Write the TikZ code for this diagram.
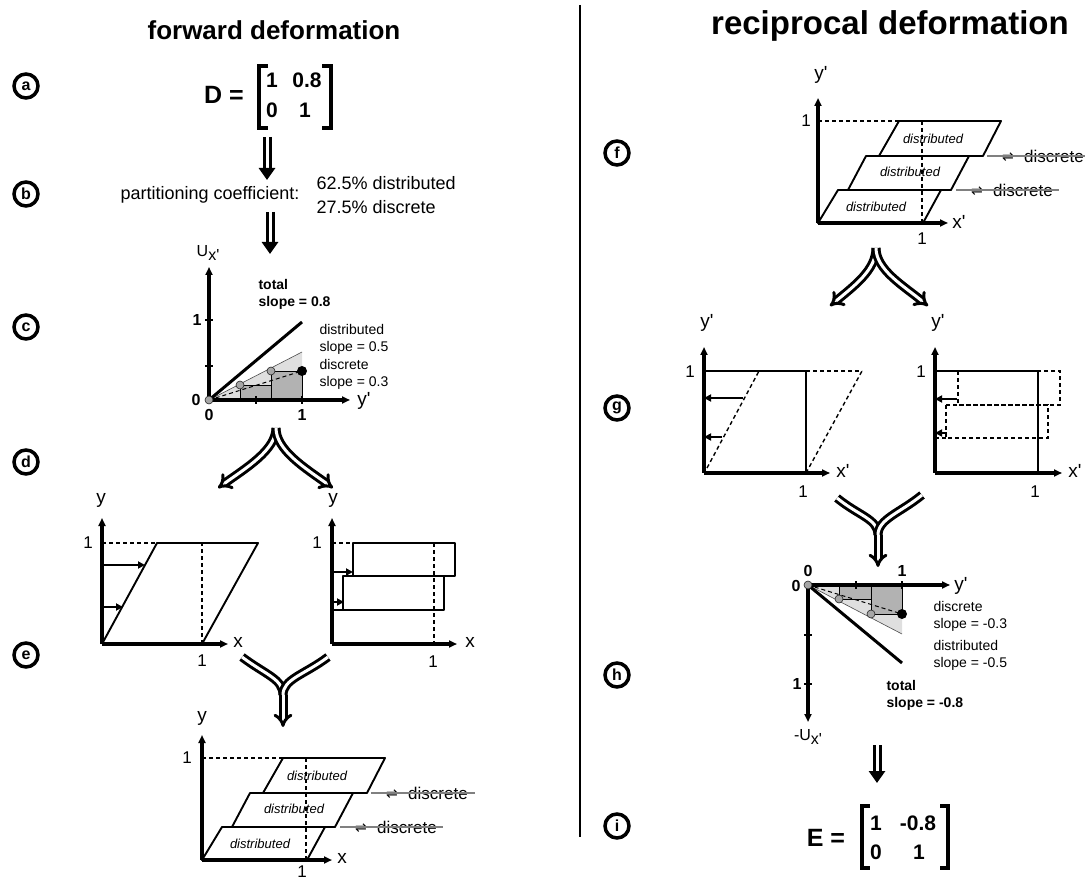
\documentclass[tikz,border=0pt]{standalone}
\usepackage{fontspec}
\setmainfont{Liberation Sans}
\newfontfamily\arrowfont{DejaVu Sans}
\usetikzlibrary{arrows.meta,positioning}

\newcommand{\pr}{\textquotesingle}

\tikzset{
  heading/.style={font=\bfseries\fontsize{26}{26}\selectfont},
  circlab/.style={circle, draw, line width=3.5pt, minimum size=24pt, inner sep=0pt,
    font=\bfseries\fontsize{16}{16}\selectfont},
  plotaxis/.style={line width=3.6pt, -{Triangle[length=8pt,width=7pt]}},
  axlab/.style={font=\fontsize{19}{19}\selectfont},
  unitlab/.style={font=\fontsize{17}{17}\selectfont},
  zerolab/.style={font=\bfseries\fontsize{16}{16}\selectfont},
  tickmark/.style={line width=2.6pt},
  outline/.style={line width=1.9pt, line join=round},
  guide/.style={line width=1.4pt, dash pattern=on 4pt off 3pt},
  push/.style={line width=2.8pt, -{Triangle[length=7pt,width=7pt]}},
  layertext/.style={font=\itshape\fontsize{13}{13}\selectfont},
  sliptext/.style={font=\fontsize{17}{17}\selectfont},
  slipline/.style={gray, line width=1.1pt},
  harpoon/.style={font=\arrowfont\fontsize{14}{14}\selectfont},
  note/.style={anchor=west, align=left, font=\fontsize{14}{17}\selectfont},
  boldnote/.style={note, font=\bfseries\fontsize{14}{17}\selectfont},
  matbracket/.style={line width=3.4pt},
  matlab/.style={font=\bfseries\fontsize{25}{25}\selectfont},
  matentry/.style={font=\bfseries\fontsize{21}{21}\selectfont},
  bigdown/.style={double=white, double distance=3pt, line width=3pt,
    -{Triangle[length=12pt,width=16pt]}},
  forkline/.style={double=white, double distance=3pt, line width=3pt},
  forkarrow/.style={forkline, -{Implies}},
  lightpart/.style={fill=gray!25},
  darkpart/.style={fill=gray!60, draw, line width=0.8pt},
  dot/.style={fill=gray!70, draw=gray!30!black, line width=0.6pt},
}

\begin{document}
\begin{tikzpicture}[x=1pt, y=-1pt]
\useasboundingbox (0,0) rectangle (1085,882);

% headings and divider
\node[heading] (fwdtitle) at (274,30) {forward deformation};
\node[heading, font=\bfseries\fontsize{33}{33}\selectfont] (rectitle) at (890,26) {reciprocal deformation};
\draw[line width=1.5pt] (580,5) -- (580,837);

% step markers
\node[circlab] (stepa) at (26,86) {a};
\node[circlab] (stepb) at (26,194) {b};
\node[circlab] (stepc) at (26,327) {c};
\node[circlab] (stepd) at (26,462) {d};
\node[circlab] (stepe) at (26,655) {e};
\node[circlab] (stepf) at (617,153) {f};
\node[circlab] (stepg) at (617,408) {g};
\node[circlab] (steph) at (617,675) {h};
\node[circlab] (stepi) at (617,826) {i};

% (a) deformation matrix
\node[matlab] (dname) at (224,95) {D =};
\draw[matbracket] (268,66) -- (259,66) -- (259,128) -- (268,128);
\draw[matbracket] (322,66) -- (331,66) -- (331,128) -- (322,128);
\node[matentry] (d11) at (272,80) {1};
\node[matentry] (d12) at (307,80) {0.8};
\node[matentry] (d21) at (272,110) {0};
\node[matentry] (d22) at (305,110) {1};

\coordinate (atop) at (267,137);
\coordinate (bbot) at (267,180);
\draw[bigdown] (atop) -- (bbot);

% (b) partitioning
\node[anchor=west, font=\fontsize{18}{18}\selectfont] (partlab) at (117,195) {partitioning coefficient:};
\node[anchor=west, align=left, font=\fontsize{18}{24}\selectfont] (partval) at (313,195) {62.5\% distributed\\27.5\% discrete};

\coordinate (btop) at (270,212);
\coordinate (cbot) at (270,254);
\draw[bigdown] (btop) -- (cbot);

% (c) displacement against y'
\fill[lightpart] (209,400) -- (302,400) -- (302,352) -- cycle;
\draw[gray!60!black, line width=0.6pt] (209,400) -- (302,352);
\draw[darkpart] (240,400) rectangle (271,385);
\draw[darkpart] (271,400) rectangle (302,371);
\draw[guide, line width=1pt] (209,400) -- (302,371);
\draw[line width=3pt] (209,400) -- (302,322);
\draw[plotaxis] (209,400) -- (209,267);
\draw[plotaxis] (209,400) -- (350,400);
\draw[tickmark] (205,320) -- (213,320) (205,366) -- (213,366)
  (256,396) -- (256,404) (302,396) -- (302,404);
\filldraw[dot] (209,400) circle (4pt) (240,385) circle (4pt) (271,371) circle (4pt);
\fill (302,371) circle (5pt);
\node[font=\fontsize{16}{16}\selectfont] (cux) at (208,253) {U\raisebox{-0.5ex}{x\pr}};
\node[axlab] (cyp) at (364,401) {y\pr};
\node[zerolab] (cyone) at (197,320) {1};
\node[zerolab] (czero) at (196,400) {0};
\node[zerolab] (cxzero) at (209,415) {0};
\node[zerolab] (cxone) at (302,415) {1};
\node[boldnote] (ctotal) at (255,294) {total\\slope = 0.8};
\node[note] (cdist) at (316,339) {distributed\\slope = 0.5};
\node[note] (cdisc) at (316,374) {discrete\\slope = 0.3};

% split towards the two components
\coordinate (csplit) at (276,428);
\coordinate (dlefttip) at (218,488);
\coordinate (drighttip) at (333,488);
\draw[forkarrow] (csplit) .. controls +(0,22) and +(28,-20) .. (dlefttip);
\draw[forkarrow] (csplit) .. controls +(0,22) and +(-28,-20) .. (drighttip);

% (d) distributed part
\draw[guide] (102,543) -- (157,543);
\draw[outline] (102,644) -- (157,543) -- (258,543) -- (202,644);
\draw[guide] (202,644) -- (202,543);
\draw[push] (102,565) -- (145,565);
\draw[push] (102,607) -- (123,607);
\draw[plotaxis] (102,644) -- (102,518);
\draw[plotaxis] (102,644) -- (228,644);
\node[axlab] (dly) at (101,500) {y};
\node[axlab] (dlx) at (238,642) {x};
\node[unitlab] (dlyone) at (88,543) {1};
\node[unitlab] (dlxone) at (202,661) {1};

% (d) discrete part
\draw[guide] (332,543) -- (353,543);
\draw[outline] (353,543) rectangle (455,576);
\draw[outline] (343,576) rectangle (444,610);
\draw[outline] (332,610) -- (343,610);
\draw[guide] (434,543) -- (434,644);
\draw[push] (332,572) -- (353,572);
\draw[push] (332,602) -- (344,602);
\draw[plotaxis] (332,644) -- (332,518);
\draw[plotaxis] (332,644) -- (457,644);
\node[axlab] (dry) at (333,500) {y};
\node[axlab] (drx) at (470,642) {x};
\node[unitlab] (dryone) at (317,543) {1};
\node[unitlab] (drxone) at (433,662) {1};

% merge into the combined picture
\coordinate (dleftend) at (242,657);
\coordinate (drightend) at (328,657);
\coordinate (ejoin) at (283,695);
\coordinate (etip) at (283,727);
\draw[forkline] (dleftend) .. controls +(24,18) and +(0,-16) .. (ejoin);
\draw[forkline] (drightend) .. controls +(-24,18) and +(0,-16) .. (ejoin);
\draw[forkarrow] (ejoin) -- (etip);

% (e) layers in x-y
\begin{scope}[shift={(202,860)}]
  \draw[guide] (0,-102) -- (81,-102);
  \draw[outline] (81,-102) -- (183,-102) -- (165,-67) -- (61,-67) -- cycle;
  \draw[outline] (48,-67) -- (151,-67) -- (133,-33) -- (30,-33) -- cycle;
  \draw[outline] (20,-33) -- (123,-33) -- (105,0) -- (0,0) -- cycle;
  \draw[guide] (104,-102) -- (104,0);
  \draw[plotaxis] (0,0) -- (0,-125);
  \draw[plotaxis] (0,0) -- (130,0);
  \node[axlab] (ey) at (0,-142) {y};
  \node[axlab] (ex) at (140,-2) {x};
  \node[unitlab] (eyone) at (-15,-102) {1};
  \node[unitlab] (exone) at (100,12) {1};
  \node[layertext] (etop) at (115,-84) {distributed};
  \node[layertext] (emid) at (92,-51) {distributed};
  \node[layertext] (ebot) at (58,-16) {distributed};
  \node[sliptext] (eupdisc) at (236,-67) {discrete};
  \node[harpoon] (euphar) at (190,-66) {⇌};
  \draw[slipline] (169,-67) -- (273,-67);
  \node[sliptext] (elodisc) at (205,-33) {discrete};
  \node[harpoon] (elohar) at (159,-32) {⇌};
  \draw[slipline] (138,-33) -- (241,-33);
\end{scope}

% (f) layers in x'-y'
\begin{scope}[shift={(818,223)}]
  \draw[guide] (0,-102) -- (81,-102);
  \draw[outline] (81,-102) -- (183,-102) -- (165,-67) -- (61,-67) -- cycle;
  \draw[outline] (48,-67) -- (151,-67) -- (133,-33) -- (30,-33) -- cycle;
  \draw[outline] (20,-33) -- (123,-33) -- (105,0) -- (0,0) -- cycle;
  \draw[guide] (104,-102) -- (104,0);
  \draw[plotaxis] (0,0) -- (0,-125);
  \draw[plotaxis] (0,0) -- (130,0);
  \node[axlab] (fy) at (3,-148) {y\pr};
  \node[axlab] (fx) at (141,-1) {x\pr};
  \node[unitlab] (fyone) at (-12,-102) {1};
  \node[unitlab] (fxone) at (104,16) {1};
  \node[layertext] (ftop) at (115,-84) {distributed};
  \node[layertext] (fmid) at (92,-51) {distributed};
  \node[layertext] (fbot) at (58,-16) {distributed};
  \node[sliptext] (fupdisc) at (236,-67) {discrete};
  \node[harpoon] (fuphar) at (190,-66) {⇌};
  \draw[slipline] (169,-67) -- (273,-67);
  \node[sliptext] (flodisc) at (205,-33) {discrete};
  \node[harpoon] (flohar) at (159,-32) {⇌};
  \draw[slipline] (138,-33) -- (241,-33);
\end{scope}

% split towards the two components
\coordinate (fsplit) at (876,248);
\coordinate (glefttip) at (830,306);
\coordinate (grighttip) at (928,306);
\draw[forkarrow] (fsplit) .. controls +(0,22) and +(24,-20) .. (glefttip);
\draw[forkarrow] (fsplit) .. controls +(0,22) and +(-24,-20) .. (grighttip);

% (g) distributed part
\draw[outline] (704,371) -- (806,371) -- (806,473);
\draw[guide] (806,371) -- (862,371);
\draw[guide] (707,468) -- (759,371);
\draw[guide] (806,473) -- (862,371);
\draw[push] (743,398) -- (704,398);
\draw[push] (722,437) -- (704,437);
\draw[plotaxis] (704,473) -- (704,347);
\draw[plotaxis] (704,473) -- (830,473);
\node[axlab] (gly) at (707,323) {y\pr};
\node[axlab] (glx) at (843,471) {x\pr};
\node[unitlab] (glyone) at (690,372) {1};
\node[unitlab] (glxone) at (803,492) {1};

% (g) discrete part
\draw[guide] (958,371) rectangle (1060,405);
\draw[guide] (946,405) rectangle (1048,438);
\draw[guide] (935,438) -- (946,438);
\draw[outline] (935,371) -- (1038,371) -- (1038,473);
\draw[push] (957,399) -- (935,399);
\draw[push] (947,433) -- (935,433);
\draw[plotaxis] (935,473) -- (935,347);
\draw[plotaxis] (935,473) -- (1062,473);
\node[axlab] (gry) at (938,323) {y\pr};
\node[axlab] (grx) at (1075,471) {x\pr};
\node[unitlab] (gryone) at (921,372) {1};
\node[unitlab] (grxone) at (1035,492) {1};

% merge into the reciprocal displacement
\coordinate (gleftend) at (837,498);
\coordinate (grightend) at (922,495);
\coordinate (hjoin) at (878,535);
\coordinate (htip) at (878,567);
\draw[forkline] (gleftend) .. controls +(22,18) and +(0,-16) .. (hjoin);
\draw[forkline] (grightend) .. controls +(-22,18) and +(0,-16) .. (hjoin);
\draw[forkarrow] (hjoin) -- (htip);

% (h) displacement against y', pointing down
\fill[lightpart] (808,585) -- (902,585) -- (902,634) -- cycle;
\draw[gray!60!black, line width=0.6pt] (808,585) -- (902,634);
\draw[darkpart] (839,585) rectangle (871,599);
\draw[darkpart] (871,585) rectangle (902,614);
\draw[guide, line width=1pt] (808,585) -- (902,614);
\draw[line width=3pt] (808,585) -- (902,663);
\draw[plotaxis] (808,585) -- (950,585);
\draw[plotaxis] (808,585) -- (808,722);
\draw[tickmark] (856,581) -- (856,589) (902,581) -- (902,589)
  (804,635) -- (812,635) (804,684) -- (812,684);
\filldraw[dot] (808,585) circle (4pt) (839,599) circle (4pt) (871,614) circle (4pt);
\fill (902,614) circle (5pt);
\node[zerolab] (hxzero) at (808,571) {0};
\node[zerolab] (hxone) at (902,571) {1};
\node[zerolab] (hzero) at (796,586) {0};
\node[zerolab] (hyone) at (797,684) {1};
\node[axlab] (hyp) at (961,586) {y\pr};
\node[font=\fontsize{16}{16}\selectfont] (hux) at (808,737) {-U\raisebox{-0.5ex}{x\pr}};
\node[note] (hdisc) at (930,616) {discrete\\slope = -0.3};
\node[note] (hdist) at (930,655) {distributed\\slope = -0.5};
\node[boldnote] (htotal) at (883,695) {total\\slope = -0.8};

\coordinate (hbot) at (877,745);
\coordinate (itop) at (877,783);
\draw[bigdown] (hbot) -- (itop);

% (i) reciprocal matrix
\node[matlab] (ename) at (826,838) {E =};
\draw[matbracket] (870,806) -- (862,806) -- (862,868) -- (870,868);
\draw[matbracket] (940,806) -- (948,806) -- (948,868) -- (940,868);
\node[matentry] (e11) at (876,823) {1};
\node[matentry] (e12) at (918,823) {-0.8};
\node[matentry] (e21) at (876,852) {0};
\node[matentry] (e22) at (919,852) {1};
\end{tikzpicture}
\end{document}
